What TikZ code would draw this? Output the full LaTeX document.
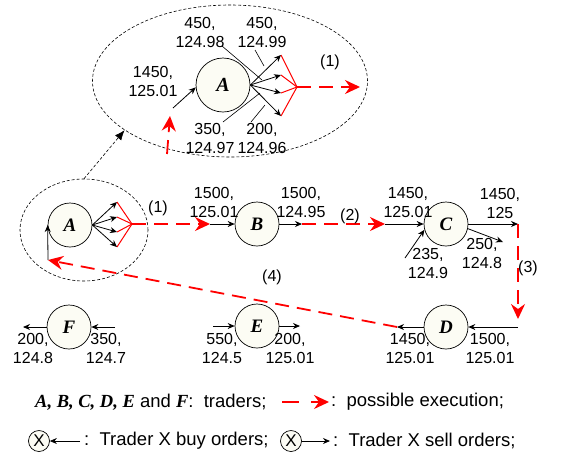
\documentclass[tikz,border=0pt]{standalone}
\usepackage{fontspec}
\setmainfont{Liberation Sans}
\newfontfamily\trfont{Liberation Serif}
\usetikzlibrary{arrows.meta,shapes.geometric}
\definecolor{trfill}{RGB}{252,252,244}
\tikzset{
  trader/.style={circle,draw,line width=0.7pt,fill=trfill,minimum size=44pt,inner sep=0pt,font=\trfont\bfseries\itshape\fontsize{19}{19}\selectfont},
  order/.style={line width=0.8pt,-{Stealth[length=7pt,width=6pt]}},
  exec/.style={red,line width=1.8pt,dash pattern=on 14pt off 8pt,-{Stealth[length=15pt,width=14pt,inset=5pt]}},
  fan/.style={red,line width=1pt},
  lbl/.style={align=center,inner sep=0pt,font=\fontsize{16}{19}\selectfont},
  pointer/.style={line width=0.6pt},
  group/.style={ellipse,draw,line width=0.6pt,dash pattern=on 3pt off 2pt,inner sep=0pt},
  zoomlink/.style={line width=0.6pt,dash pattern=on 3pt off 2pt,-{Latex[length=10pt,width=8pt]}},
  legx/.style={circle,draw,line width=0.7pt,fill=trfill,minimum size=21pt,inner sep=0pt,font=\fontsize{17}{17}\selectfont},
  legend/.style={anchor=west,inner sep=0pt,font=\fontsize{18.5}{20}\selectfont}
}
\newcommand{\trbf}[1]{{\trfont\bfseries\itshape #1}}
\begin{document}
\begin{tikzpicture}[x=1pt,y=-1pt]
\useasboundingbox (0,0) rectangle (569,451);

% zoomed view of trader A
\node[group,minimum width=275pt,minimum height=152pt] (zoomA) at (230,81) {};
\node[trader,minimum size=54pt,font=\trfont\bfseries\itshape\fontsize{20}{20}\selectfont] (bigA) at (223,85) {A};
\coordinate (bj) at (297,87);
\foreach \y [count=\i] in {55,75,93,116} {
  \coordinate (bt\i) at (281,\y);
  \draw[order] (bigA.east) -- (bt\i);
  \draw[fan] (bt\i) -- (bj);
}
\coordinate (bx) at (360,87);
\draw[exec] (bj) -- (bx);
\node[lbl] (bigE1) at (330,62) {(1)};
\coordinate (rs) at (167,154);
\coordinate (rt) at (170,116);
\draw[exec] (rs) -- (rt);
\coordinate (bb) at (173,108);
\draw[order] (bb) -- (bigA.185);
\node[lbl] (bq1) at (153,81) {1450,\\125.01};
\node[lbl] (bq2) at (200,32) {450,\\124.98};
\node[lbl] (bq3) at (262,32) {450,\\124.99};
\node[lbl] (bq4) at (210,138) {350,\\124.97};
\node[lbl] (bq5) at (262,138) {200,\\124.96};
\coordinate (bp2) at (262,80);
\coordinate (bp3) at (264,66);
\coordinate (bp4) at (260,93);
\coordinate (bp5) at (265,105);
\draw[pointer] (222,46) -- (bp2);
\draw[pointer] (255,50) -- (bp3);
\draw[pointer] (223,122) -- (bp4);
\draw[pointer] (251,122) -- (bp5);

% trader A in the market
\node[group,minimum width=128pt,minimum height=102pt] (grpA) at (84,230) {};
\draw[zoomlink] (grpA.north) -- (zoomA.205);
\node[trader] (A) at (70,225) {A};
\coordinate (aj) at (132,224);
\foreach \y [count=\i] in {202,217,232,247} {
  \coordinate (at\i) at (117,\y);
  \draw[order] (A.east) -- (at\i);
  \draw[fan] (at\i) -- (aj);
}
\node[lbl] (e1) at (158,208) {(1)};

% B and C
\node[trader] (B) at (257,224) {B};
\node[trader] (C) at (446,224) {C};
\coordinate (bl) at (210,224);
\coordinate (br) at (302,224);
\coordinate (cl) at (385,224);
\coordinate (cr) at (518,224);
\coordinate (cb) at (405,258);
\coordinate (cs) at (503,242);
\draw[exec] (aj) -- (bl);
\draw[order] (bl) -- (B);
\draw[order] (B) -- (br);
\draw[exec] (br) -- (cl);
\draw[order] (cl) -- (C);
\draw[order] (cb) -- (C.195);
\draw[order] (C) -- (cr);
\draw[order] (C.-12) -- (cs);
\node[lbl] (qb1) at (214,202) {1500,\\125.01};
\node[lbl] (qb2) at (301,202) {1500,\\124.95};
\node[lbl] (e2) at (350,216) {(2)};
\node[lbl] (qc1) at (408,202) {1450,\\125.01};
\node[lbl] (qc2) at (428,263) {235,\\124.9};
\node[lbl] (qc3) at (500,203) {1450,\\125};
\node[lbl] (qc4) at (482,253) {250,\\124.8};

% D and the way back to A
\node[trader] (D) at (446,327) {D};
\coordinate (dt) at (518,319);
\coordinate (dr) at (518,327);
\coordinate (dl) at (397,327);
\coordinate (ab) at (48,260);
\draw[exec] (cr) -- (dt);
\node[lbl] (e3) at (528,268) {(3)};
\draw[order] (dr) -- (D);
\draw[order] (D) -- (dl);
\draw[exec] (dl) -- (ab);
\draw[order] (ab) -- (A.west);
\node[lbl] (e4) at (272,277) {(4)};
\node[lbl] (qd1) at (410,348) {1450,\\125.01};
\node[lbl] (qd2) at (490,348) {1500,\\125.01};

% E and F
\node[trader] (E) at (257,326) {E};
\node[trader] (F) at (69,327) {F};
\coordinate (el) at (213,326);
\coordinate (er) at (300,326);
\coordinate (fl) at (23,327);
\coordinate (fr) at (115,327);
\draw[order] (el) -- (E);
\draw[order] (E) -- (er);
\draw[order] (F) -- (fl);
\draw[order] (fr) -- (F);
\node[lbl] (qe1) at (222,348) {550,\\124.5};
\node[lbl] (qe2) at (290,348) {200,\\125.01};
\node[lbl] (qf1) at (33,348) {200,\\124.8};
\node[lbl] (qf2) at (106,348) {350,\\124.7};

% legend
\node[legend] (leg1) at (35,402) {\trbf{A, B, C, D, E} and \trbf{F}:\ \ traders;};
\coordinate (lgs) at (282,402);
\coordinate (lge) at (329,402);
\draw[exec,dash pattern=on 17pt off 12pt] (lgs) -- (lge);
\node[legend] (leg2) at (331,402) {:\ \ possible execution;};
\node[legx] (X1) at (39,441) {X};
\coordinate (x1e) at (80,441);
\draw[order] (x1e) -- (X1);
\node[legend] (leg3) at (84,441) {:\ \ Trader X buy orders;};
\node[legx] (X2) at (291,441) {X};
\coordinate (x2e) at (330,441);
\draw[order] (X2) -- (x2e);
\node[legend] (leg4) at (333,441) {:\ \ Trader X sell orders;};
\end{tikzpicture}
\end{document}
